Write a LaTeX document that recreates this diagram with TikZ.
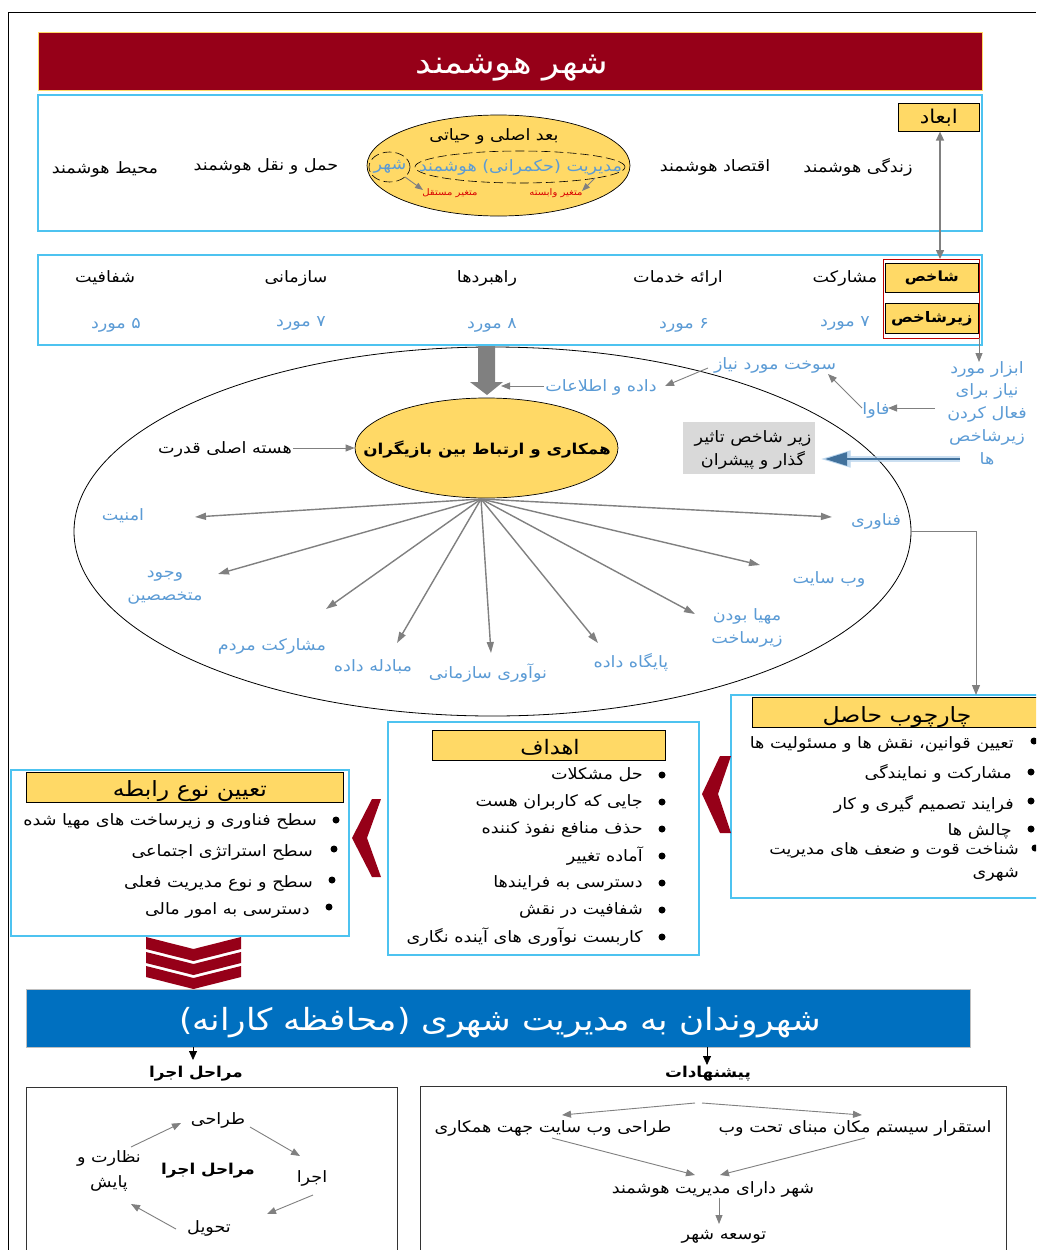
\documentclass[tikz,border=0pt]{standalone}
\usepackage{fontspec}
\usetikzlibrary{arrows.meta,shapes.geometric}
\TeXXeTstate=1
\newfontfamily\arabicfont[Script=Arabic,FakeStretch=1.12]{DejaVu Sans}
\newcommand{\RR}[1]{\beginR #1\endR}
\definecolor{dred}{HTML}{960018}
\definecolor{ybox}{HTML}{FFD966}
\definecolor{cyanb}{HTML}{4DC3F0}
\definecolor{lblue}{HTML}{5B9BD5}
\definecolor{bar}{HTML}{0070C0}
\definecolor{gar}{HTML}{808080}
\definecolor{barrow}{HTML}{41719C}
\tikzset{
 fa/.style={font=\fontsize{#1}{\dimexpr #1pt*145/100\relax}\selectfont\arabicfont,inner sep=1pt,align=center,text=black},
 fa/.default=15.7,
 fab/.style={fa=#1,font=\fontsize{#1}{\dimexpr #1pt*145/100\relax}\selectfont\arabicfont\bfseries},
 bl/.style={fa=#1,text=lblue},
 bl/.default=15.7,
 ybx/.style={draw=black,line width=.6pt,fill=ybox,inner sep=0pt,anchor=north west},
 cbx/.style={draw=cyanb,line width=1.1pt,fill=white},
 arr/.style={draw=gar,line width=.9pt,-{Triangle[length=9pt,width=7pt]}},
 ray/.style={draw=gar,line width=1.4pt,-{Triangle[length=11pt,width=7pt]}},
 barr/.style={draw=black,line width=.8pt,-{Triangle[length=9pt,width=8pt]}},
 chev/.style={fill=dred,draw=none},
 bull/.style={fill=black,draw=none},
}
\begin{document}
\begin{tikzpicture}[x=1pt,y=-1pt]
\useasboundingbox (0,0) rectangle (1036,1250);
\clip (0,0) rectangle (1036,1250);
\fill[white] (0,0) rectangle (1036,1250);
\draw[black,line width=.9pt] (8.5,1250) -- (8.5,12.5) -- (1036,12.5);
% title
\node[draw=ybox,line width=.8pt,fill=dred,minimum width=944pt,minimum height=58pt,inner sep=0,anchor=north west] (title) at (38,32) {};
\node[fa=31.5,text=white] (titletext) at (512,68) {\RR{شهر هوشمند}};
% dimension box
\draw[cbx] (38,95) rectangle (982,231);
\node[ybx,minimum width=81pt,minimum height=28pt,fa=19] (abad) at (898,103) {\RR{ابعاد}};
\node[fa] (d1) at (858,167) {\RR{زندگی هوشمند}};
\node[fa] (d2) at (715,167) {\RR{اقتصاد هوشمند}};
\node[fa] (d3) at (266,166) {\RR{حمل و نقل هوشمند}};
\node[fa] (d4) at (105,169) {\RR{محیط هوشمند}};
\node[ellipse,draw=black,fill=ybox,line width=.7pt,minimum width=263pt,minimum height=101pt,inner sep=0] (vital) at (498.5,165.5) {};
\node[fa] (vt) at (494,136) {\RR{بعد اصلی و حیاتی}};
\node[ellipse,draw=black,dash pattern=on 9pt off 4pt,line width=.6pt,minimum width=41pt,minimum height=30pt,inner sep=0] (ec) at (389.5,167) {};
\node[ellipse,draw=black,dash pattern=on 9pt off 4pt,line width=.6pt,minimum width=210pt,minimum height=32pt,inner sep=0] (em) at (520,167) {};
\node[bl] (vc) at (390,167) {\RR{شهر}};
\node[bl] (vm) at (520.5,167) {\RR{مدیریت (حکمرانی) هوشمند}};
\node[fa=9,text=red!85!black] (ri) at (450,193) {\RR{متغیر مستقل}};
\node[fa=9,text=red!85!black] (rd) at (556,193) {\RR{متغیر وابسته}};
\coordinate (ca) at (405,177); \coordinate (cb) at (423,190);
\coordinate (ma) at (595,178); \coordinate (mb) at (582,191);
\draw[arr,-{Triangle[length=8pt,width=6pt]}] (ca) -- (cb);
\draw[arr,-{Triangle[length=8pt,width=6pt]}] (ma) -- (mb);
% indicator box
\draw[cbx] (38,255) rectangle (982,345);
\coordinate[] (redtl) at (883,259);
\draw[draw=red!75!black,line width=.8pt] (redtl) rectangle (979,338);
\coordinate (redbr) at (979,338);
\node[ybx,minimum width=93pt,minimum height=29pt,fab=14] (shakh) at (885,263) {\RR{شاخص}};
\node[ybx,minimum width=93pt,minimum height=30pt,fab=14.5] (zir) at (885,303) {\RR{زیرشاخص}};
\coordinate (redtop) at (940,259);
\draw[draw=gar,line width=1.5pt,{Triangle[length=9pt,width=8pt]}-{Triangle[length=9pt,width=8pt]}] (abad.south -| redtop) -- (redtop);
\node[fa] (s1) at (105,278) {\RR{شفافیت}};
\node[fa] (s2) at (296,278) {\RR{سازمانی}};
\node[fa] (s3) at (487,278) {\RR{راهبردها}};
\node[fa] (s4) at (678,278) {\RR{ارائه خدمات}};
\node[fa] (s5) at (845,278) {\RR{مشارکت}};
\node[bl] (n1) at (116,325) {\RR{۵ مورد}};
\node[bl] (n2) at (301,323) {\RR{۷ مورد}};
\node[bl] (n3) at (492,325) {\RR{۸ مورد}};
\node[bl] (n4) at (684,325) {\RR{۶ مورد}};
\node[bl] (n5) at (845,323) {\RR{۷ مورد}};
% big ellipse
\node[ellipse,draw=black,line width=.8pt,fill=white,minimum width=837pt,minimum height=369pt,inner sep=0] (big) at (492.5,531.5) {};
% big gray arrow
\fill[gar] (478,346) -- (495,346) -- (495,382) -- (503,382) -- (487,395) -- (470,382) -- (478,382) -- cycle;
\node[ellipse,draw=black,fill=ybox,line width=.7pt,minimum width=263pt,minimum height=100pt,inner sep=0] (core) at (486.5,448) {};
\node[fab=15] (coretext) at (487,450) {\RR{همکاری و ارتباط بین بازیگران}};
\node[bl] (data) at (601,387) {\RR{داده و اطلاعات}};
\node[bl] (fuel) at (775,365) {\RR{سوخت مورد نیاز}};
\node[bl] (ict) at (876,410) {\RR{فاوا}};
\node[bl] (tools) at (987,413) {\RR{ابزار مورد}\\\RR{نیاز برای}\\\RR{فعال کردن}\\\RR{زیرشاخص}\\\RR{ها}};
\coordinate (toolsTop) at (979,362);
\draw[arr] (redbr) -- (toolsTop);
\coordinate (dataIn) at (501,386);
\draw[arr] (data.west |- dataIn) -- (dataIn);
\coordinate (fuelOut) at (708,368);
\coordinate (dataOut) at (665,386);
\draw[arr] (fuelOut) -- (dataOut);
\coordinate (toolsOut) at (935,408);
\coordinate (ictIn) at (888,408);
\draw[arr] (toolsOut) -- (ictIn);
\coordinate (ictOut) at (862,408);
\coordinate (fuelIn) at (828,374);
\draw[arr] (ictOut) -- (fuelIn);
\node[fill=black!15,minimum width=132pt,minimum height=52pt,inner sep=0,anchor=north west] (drv) at (683,422) {};
\node[fa] (drvt) at (753,450) {\RR{زیر شاخص تاثیر}\\\RR{گذار و پیشران}};
\coordinate (bs) at (960,459);
\coordinate (be) at (825,459);
\draw[draw=lblue!45,line width=6pt,opacity=.7] (bs) -- (840,459);
\draw[draw=lblue!40!white,line width=1pt,fill=lblue!40!white] (823,459) -- (850,451) -- (850,467) -- cycle;
\draw[draw=barrow,line width=2.6pt,-{Triangle[length=22pt,width=13pt]}] (bs) -- (be);
\node[fa] (nucl) at (225,449) {\RR{هسته اصلی قدرت}};
\draw[arr] (nucl.east |- core.west) -- (core.west);
% rays
\coordinate (hub) at (481,499);
\foreach \n/\x/\y in {a/195/517,b/218/574,c/326/609,d/397/643,e/491/653,f/598/643,g/695/614,h/760/565,i/832/517}{
  \coordinate (ray\n) at (\x,\y);
  \draw[ray] (hub) -- (ray\n);
}
\node[bl] (la) at (123,516) {\RR{امنیت}};
\node[bl] (lb) at (165,588) {\RR{وجود}\\\RR{متخصصین}};
\node[bl] (lc) at (272,646) {\RR{مشارکت مردم}};
\node[bl] (ld) at (373,667) {\RR{مبادله داده}};
\node[bl] (le) at (488,673) {\RR{نوآوری سازمانی}};
\node[bl] (lf) at (631,662) {\RR{پایگاه داده}};
\node[bl] (lg) at (747,628) {\RR{مهیا بودن}\\\RR{زیرساخت}};
\node[bl] (lh) at (829,579) {\RR{وب سایت}};
\node[bl] (li) at (876,521) {\RR{فناوری}};
% framework box
\draw[cbx] (731,695) rectangle (1050,898);
\node[ybx,minimum width=300pt,minimum height=30pt] (fy) at (752,697) {};
\node[fa=21] (ft) at (897,717) {\RR{چارچوب حاصل}};
\coordinate (fin) at (976,695);
\draw[draw=gar,line width=.9pt,-{Triangle[length=10pt,width=8pt]}] (big.east) -- (fin |- big.east) -- (fin);
\foreach \i/\x/\y/\bx/\by/\t in {1/1015/744/1034/741/{تعیین قوانین، نقش ها و مسئولیت ها},2/1013/773/1031/772/{مشارکت و نمایندگی},3/1015/804/1031/801/{فرایند تصمیم گیری و کار},4/1013/831/1031/829/{چالش ها},5/1020/850/1035/848/{شناخت قوت و ضعف های مدیریت},6/1020/875/-9/-9/{شهری}}{
  \node[fa,anchor=east] (f\i) at (\x,\y) {\RR{\t}};
  \fill[bull] (\bx,\by) circle[radius=3.5pt];
}
\fill[chev] (720,756) -- (731,756) -- (718,794) -- (731,833) -- (720,833) -- (702,794) -- cycle;
% goals
\draw[cbx] (388,722) rectangle (699,955);
\node[ybx,minimum width=233pt,minimum height=30pt] (gy) at (432,730) {};
\node[fa=20] (gt) at (550,747) {\RR{اهداف}};
\foreach \i/\y/\t in {1/775/{حل مشکلات},2/802/{جایی که کاربران هست},3/829/{حذف منافع نفوذ کننده},4/856/{آماده تغییر},5/883/{دسترسی به فرایندها},6/910/{شفافیت در نقش},7/937/{کاربست نوآوری های آینده نگاری}}{
  \node[fa,anchor=east] (g\i) at (644,\y) {\RR{\t}};
  \fill[bull] (662,\y) circle[radius=3.5pt];
}
\fill[chev] (372,799) -- (381,799) -- (367,838) -- (381,877) -- (372,877) -- (352,838) -- cycle;
% relation
\draw[cbx] (11,770) rectangle (349,936);
\node[ybx,minimum width=317pt,minimum height=30pt] (ry) at (26,772) {};
\node[fa=21] (rt) at (190,791) {\RR{تعیین نوع رابطه}};
\foreach \i/\x/\y/\bx/\by/\t in {1/318/821/336/820/{سطح فناوری و زیرساخت های مهیا شده},2/314/852/334/849/{سطح استراتژی اجتماعی},3/314/883/332/880/{سطح و نوع مدیریت فعلی},4/311/910/329/907/{دسترسی به امور مالی}}{
  \node[fa,anchor=east] (r\i) at (\x,\y) {\RR{\t}};
  \fill[bull] (\bx,\by) circle[radius=3.5pt];
}
\foreach \t/\b in {937/949,952/963,966/977}{
  \fill[chev] (146,\t) -- (193.5,{\t+12}) -- (241,\t) -- (241,\b) -- (193.5,{\b+12}) -- (146,\b) -- cycle;
}
% bar
\node[fill=bar,draw=black!25,line width=.5pt,minimum width=944pt,minimum height=58pt,inner sep=0,anchor=north west] (citizen) at (26,989) {};
\node[fa=30.5,text=white] (ct) at (500,1023) {\RR{شهروندان به مدیریت شهری (محافظه کارانه)}};
\node[fab=15] (hexec) at (196,1074) {\RR{مراحل اجرا}};
\node[fab=15] (hprop) at (708,1074) {\RR{پیشنهادات}};
\coordinate (ae1) at (193,1047);
\coordinate (ae2) at (193,1060);
\coordinate (ap1) at (707,1047);
\coordinate (ap2) at (707,1065);
\draw[barr] (ae1) -- (ae2);
\draw[barr] (ap1) -- (ap2);
% lower boxes
\draw[draw=black!80,line width=.9pt] (26,1270) -- (26,1087) -- (397,1087) -- (397,1270);
\draw[draw=black!80,line width=.9pt] (420,1270) -- (420,1086) -- (1006,1086) -- (1006,1270);
\node[fa] (e1) at (218,1120) {\RR{طراحی}};
\node[fa] (e2) at (312,1178) {\RR{اجرا}};
\node[fa] (e3) at (209,1228) {\RR{تحویل}};
\node[fa] (e4) at (109,1171) {\RR{نظارت و}\\[3pt]\RR{پایش}};
\node[fab=15] (e0) at (208,1171) {\RR{مراحل اجرا}};
\coordinate (c1a) at (250,1127); \coordinate (c1b) at (300,1156);
\coordinate (c2a) at (313,1195); \coordinate (c2b) at (267,1214);
\coordinate (c3a) at (176,1229); \coordinate (c3b) at (131,1204);
\coordinate (c4a) at (131,1147); \coordinate (c4b) at (181,1123);
\draw[arr] (c1a) -- (c1b);
\draw[arr] (c2a) -- (c2b);
\draw[arr] (c3a) -- (c3b);
\draw[arr] (c4a) -- (c4b);
\node[fa] (p1) at (553,1128) {\RR{طراحی وب سایت جهت همکاری}};
\node[fa] (p2) at (855,1128) {\RR{استقرار سیستم مکان مبنای تحت وب}};
\node[fa] (p3) at (713,1189) {\RR{شهر دارای مدیریت هوشمند}};
\node[fa] (p4) at (724,1237) {\RR{توسعه شهر}};
\coordinate (t1) at (695,1103); \coordinate (t1e) at (562,1115);
\coordinate (t2) at (702,1103); \coordinate (t2e) at (862,1115);
\coordinate (t3) at (552,1138); \coordinate (t3e) at (695,1175);
\coordinate (t4) at (865,1138); \coordinate (t4e) at (720,1175);
\coordinate (t5) at (719,1198); \coordinate (t5e) at (719,1224);
\draw[arr] (t1) -- (t1e);
\draw[arr] (t2) -- (t2e);
\draw[arr] (t3) -- (t3e);
\draw[arr] (t4) -- (t4e);
\draw[arr] (t5) -- (t5e);
\end{tikzpicture}
\end{document}
